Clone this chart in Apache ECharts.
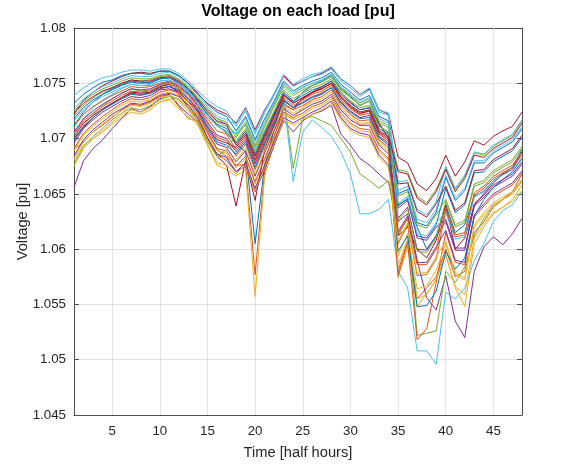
<!DOCTYPE html>
<html>
<head>
<meta charset="utf-8">
<script src="https://cdn.jsdelivr.net/npm/echarts@6/dist/echarts.min.js"></script>
<style>
  html, body { margin: 0; padding: 0; background: #fff; }
  #chart { width: 574px; height: 470px; }
</style>
</head>
<body>
<div id="chart"></div>
<script>
// Half-hour time steps
const time = [1,2,3,4,5,6,7,8,9,10,11,12,13,14,15,16,17,18,19,20,21,22,23,24,25,26,27,28,29,30,31,32,33,34,35,36,37,38,39,40,41,42,43,44,45,46,47,48];
const xTicks = [5,10,15,20,25,30,35,40,45];

// Per-load voltage profiles [pu]
const load01 = [1.0712,1.0724,1.0733,1.0740,1.0745,1.0749,1.0752,1.0751,1.0750,1.0754,1.0755,1.0750,1.0742,1.0733,1.0722,1.0712,1.0706,1.0695,1.0688,1.0605,1.0676,1.0708,1.0740,1.0733,1.0742,1.0748,1.0752,1.0757,1.0745,1.0738,1.0730,1.0734,1.0712,1.0705,1.0640,1.0645,1.0620,1.0600,1.0612,1.0640,1.0615,1.0622,1.0648,1.0652,1.0662,1.0668,1.0674,1.0690];
const load02 = [1.0690,1.0697,1.0706,1.0712,1.0719,1.0726,1.0731,1.0730,1.0733,1.0738,1.0740,1.0729,1.0718,1.0716,1.0705,1.0690,1.0684,1.0676,1.0676,1.0577,1.0670,1.0700,1.0730,1.0726,1.0736,1.0741,1.0746,1.0752,1.0738,1.0728,1.0722,1.0725,1.0705,1.0698,1.0580,1.0608,1.0555,1.0565,1.0575,1.0600,1.0575,1.0580,1.0615,1.0625,1.0638,1.0645,1.0652,1.0668];
const load03 = [1.0680,1.0694,1.0700,1.0706,1.0713,1.0719,1.0724,1.0722,1.0726,1.0733,1.0735,1.0727,1.0720,1.0712,1.0694,1.0676,1.0672,1.0666,1.0672,1.0557,1.0666,1.0695,1.0722,1.0718,1.0728,1.0735,1.0742,1.0749,1.0735,1.0722,1.0712,1.0715,1.0698,1.0690,1.0574,1.0602,1.0548,1.0560,1.0572,1.0595,1.0565,1.0548,1.0605,1.0620,1.0632,1.0638,1.0645,1.0658];
const load04 = [1.0656,1.0680,1.0691,1.0699,1.0709,1.0718,1.0727,1.0724,1.0729,1.0736,1.0740,1.0730,1.0722,1.0715,1.0700,1.0686,1.0680,1.0670,1.0675,1.0652,1.0672,1.0694,1.0716,1.0706,1.0716,1.0722,1.0725,1.0730,1.0704,1.0694,1.0682,1.0676,1.0668,1.0660,1.0625,1.0632,1.0590,1.0556,1.0545,1.0576,1.0535,1.0520,1.0580,1.0602,1.0611,1.0604,1.0614,1.0628];
const load05 = [1.0700,1.0712,1.0722,1.0730,1.0736,1.0741,1.0745,1.0743,1.0744,1.0748,1.0750,1.0746,1.0740,1.0732,1.0722,1.0712,1.0705,1.0696,1.0705,1.0684,1.0703,1.0722,1.0738,1.0673,1.0718,1.0720,1.0716,1.0712,1.0700,1.0688,1.0668,1.0662,1.0655,1.0662,1.0612,1.0628,1.0522,1.0524,1.0526,1.0580,1.0570,1.0584,1.0612,1.0628,1.0640,1.0645,1.0650,1.0662];
const load06 = [1.0705,1.0718,1.0728,1.0735,1.0740,1.0745,1.0749,1.0748,1.0748,1.0752,1.0753,1.0749,1.0743,1.0736,1.0727,1.0718,1.0713,1.0704,1.0712,1.0690,1.0708,1.0724,1.0736,1.0661,1.0706,1.0717,1.0710,1.0702,1.0688,1.0668,1.0632,1.0632,1.0636,1.0645,1.0580,1.0565,1.0508,1.0508,1.0496,1.0561,1.0555,1.0565,1.0590,1.0605,1.0625,1.0635,1.0640,1.0652];
const load07 = [1.0722,1.0735,1.0742,1.0748,1.0752,1.0756,1.0759,1.0760,1.0759,1.0761,1.0761,1.0757,1.0750,1.0740,1.0732,1.0726,1.0722,1.0714,1.0728,1.0708,1.0726,1.0740,1.0757,1.0748,1.0752,1.0756,1.0759,1.0764,1.0754,1.0748,1.0740,1.0745,1.0726,1.0722,1.0683,1.0678,1.0659,1.0653,1.0664,1.0685,1.0666,1.0679,1.0698,1.0694,1.0702,1.0707,1.0711,1.0724];
const load08 = [1.0732,1.0740,1.0746,1.0751,1.0753,1.0757,1.0759,1.0759,1.0758,1.0761,1.0761,1.0757,1.0750,1.0741,1.0731,1.0724,1.0720,1.0707,1.0720,1.0699,1.0718,1.0734,1.0752,1.0743,1.0748,1.0752,1.0755,1.0760,1.0749,1.0742,1.0735,1.0739,1.0720,1.0716,1.0650,1.0654,1.0624,1.0621,1.0633,1.0665,1.0644,1.0653,1.0678,1.0678,1.0687,1.0692,1.0697,1.0709];
const load09 = [1.0704,1.0716,1.0723,1.0729,1.0734,1.0739,1.0743,1.0742,1.0743,1.0747,1.0749,1.0745,1.0738,1.0727,1.0713,1.0701,1.0698,1.0684,1.0695,1.0672,1.0693,1.0712,1.0732,1.0726,1.0730,1.0735,1.0738,1.0744,1.0730,1.0722,1.0716,1.0717,1.0699,1.0692,1.0576,1.0606,1.0518,1.0528,1.0570,1.0615,1.0588,1.0586,1.0629,1.0639,1.0648,1.0653,1.0658,1.0669];
const load10 = [1.0689,1.0703,1.0711,1.0718,1.0724,1.0730,1.0734,1.0733,1.0735,1.0740,1.0742,1.0739,1.0731,1.0720,1.0704,1.0689,1.0687,1.0673,1.0682,1.0659,1.0680,1.0701,1.0722,1.0717,1.0721,1.0727,1.0730,1.0736,1.0721,1.0712,1.0707,1.0706,1.0688,1.0680,1.0594,1.0614,1.0564,1.0567,1.0581,1.0605,1.0577,1.0572,1.0620,1.0631,1.0640,1.0645,1.0650,1.0661];
const load11 = [1.0696,1.0709,1.0717,1.0724,1.0729,1.0734,1.0738,1.0737,1.0739,1.0744,1.0745,1.0742,1.0734,1.0724,1.0708,1.0695,1.0692,1.0679,1.0689,1.0666,1.0687,1.0707,1.0727,1.0721,1.0726,1.0731,1.0734,1.0740,1.0726,1.0717,1.0712,1.0712,1.0694,1.0686,1.0628,1.0638,1.0600,1.0599,1.0612,1.0625,1.0599,1.0599,1.0639,1.0647,1.0656,1.0661,1.0666,1.0677];
const load12 = [1.0725,1.0734,1.0740,1.0745,1.0748,1.0752,1.0755,1.0754,1.0754,1.0757,1.0758,1.0754,1.0747,1.0737,1.0727,1.0718,1.0715,1.0701,1.0713,1.0692,1.0711,1.0729,1.0747,1.0739,1.0744,1.0748,1.0751,1.0756,1.0744,1.0737,1.0730,1.0734,1.0714,1.0710,1.0672,1.0670,1.0648,1.0642,1.0654,1.0674,1.0654,1.0666,1.0687,1.0685,1.0693,1.0698,1.0703,1.0716];
const load13 = [1.0739,1.0746,1.0751,1.0755,1.0757,1.0760,1.0762,1.0762,1.0761,1.0763,1.0763,1.0759,1.0752,1.0743,1.0735,1.0729,1.0725,1.0711,1.0725,1.0704,1.0723,1.0739,1.0756,1.0747,1.0752,1.0756,1.0758,1.0763,1.0752,1.0746,1.0738,1.0744,1.0724,1.0721,1.0661,1.0662,1.0636,1.0631,1.0643,1.0675,1.0655,1.0667,1.0688,1.0686,1.0694,1.0699,1.0704,1.0717];
const load14 = [1.0700,1.0710,1.0719,1.0726,1.0732,1.0737,1.0742,1.0741,1.0742,1.0747,1.0749,1.0740,1.0728,1.0718,1.0700,1.0684,1.0676,1.0639,1.0680,1.0644,1.0690,1.0712,1.0735,1.0728,1.0736,1.0742,1.0747,1.0752,1.0742,1.0733,1.0726,1.0728,1.0714,1.0700,1.0612,1.0620,1.0600,1.0592,1.0608,1.0640,1.0600,1.0610,1.0640,1.0650,1.0660,1.0668,1.0672,1.0688];
const load15 = [1.0718,1.0728,1.0735,1.0740,1.0744,1.0748,1.0751,1.0750,1.0751,1.0754,1.0755,1.0751,1.0744,1.0734,1.0722,1.0713,1.0709,1.0696,1.0707,1.0686,1.0705,1.0723,1.0742,1.0734,1.0739,1.0744,1.0747,1.0752,1.0740,1.0732,1.0726,1.0728,1.0709,1.0704,1.0639,1.0646,1.0612,1.0610,1.0622,1.0655,1.0633,1.0640,1.0669,1.0670,1.0679,1.0684,1.0689,1.0701];
const load16 = [1.0711,1.0722,1.0729,1.0734,1.0739,1.0743,1.0747,1.0746,1.0747,1.0750,1.0752,1.0748,1.0741,1.0730,1.0718,1.0707,1.0704,1.0690,1.0701,1.0679,1.0699,1.0718,1.0737,1.0730,1.0735,1.0740,1.0743,1.0748,1.0735,1.0727,1.0721,1.0723,1.0704,1.0698,1.0605,1.0622,1.0576,1.0577,1.0591,1.0635,1.0611,1.0613,1.0649,1.0655,1.0664,1.0669,1.0674,1.0685];
const load17 = [1.0682,1.0697,1.0706,1.0713,1.0720,1.0725,1.0730,1.0729,1.0732,1.0737,1.0739,1.0736,1.0728,1.0717,1.0699,1.0684,1.0681,1.0681,1.0691,1.0668,1.0689,1.0709,1.0729,1.0723,1.0728,1.0733,1.0736,1.0742,1.0728,1.0719,1.0714,1.0714,1.0696,1.0688,1.0586,1.0609,1.0555,1.0559,1.0573,1.0595,1.0566,1.0559,1.0610,1.0623,1.0633,1.0638,1.0643,1.0653];
const load18 = [1.0706,1.0718,1.0725,1.0731,1.0736,1.0741,1.0745,1.0744,1.0745,1.0749,1.0751,1.0747,1.0740,1.0729,1.0715,1.0703,1.0700,1.0688,1.0699,1.0677,1.0697,1.0716,1.0735,1.0728,1.0733,1.0738,1.0741,1.0746,1.0733,1.0725,1.0719,1.0721,1.0702,1.0696,1.0616,1.0630,1.0588,1.0588,1.0602,1.0617,1.0590,1.0588,1.0631,1.0641,1.0650,1.0655,1.0660,1.0671];
const load19 = [1.0720,1.0730,1.0737,1.0742,1.0746,1.0750,1.0753,1.0752,1.0753,1.0756,1.0757,1.0753,1.0746,1.0736,1.0724,1.0715,1.0711,1.0698,1.0709,1.0688,1.0707,1.0725,1.0744,1.0736,1.0741,1.0746,1.0749,1.0754,1.0742,1.0734,1.0728,1.0730,1.0711,1.0706,1.0648,1.0652,1.0622,1.0619,1.0631,1.0645,1.0622,1.0626,1.0659,1.0662,1.0671,1.0676,1.0681,1.0693];
const load20 = [1.0727,1.0736,1.0742,1.0747,1.0750,1.0754,1.0757,1.0756,1.0756,1.0759,1.0760,1.0756,1.0749,1.0739,1.0729,1.0720,1.0717,1.0713,1.0727,1.0706,1.0725,1.0741,1.0758,1.0749,1.0754,1.0758,1.0760,1.0765,1.0754,1.0748,1.0740,1.0746,1.0726,1.0723,1.0653,1.0657,1.0627,1.0624,1.0636,1.0667,1.0646,1.0655,1.0680,1.0680,1.0689,1.0694,1.0699,1.0711];
const load21 = [1.0702,1.0714,1.0721,1.0727,1.0732,1.0737,1.0741,1.0740,1.0741,1.0745,1.0747,1.0743,1.0736,1.0725,1.0711,1.0699,1.0696,1.0692,1.0703,1.0681,1.0701,1.0720,1.0739,1.0732,1.0737,1.0742,1.0745,1.0750,1.0737,1.0729,1.0723,1.0725,1.0706,1.0700,1.0659,1.0660,1.0634,1.0629,1.0641,1.0657,1.0635,1.0642,1.0671,1.0672,1.0681,1.0686,1.0691,1.0703];
const load22 = [1.0698,1.0711,1.0719,1.0726,1.0731,1.0736,1.0740,1.0739,1.0741,1.0746,1.0747,1.0744,1.0736,1.0726,1.0710,1.0697,1.0694,1.0686,1.0697,1.0674,1.0695,1.0714,1.0734,1.0728,1.0732,1.0737,1.0740,1.0746,1.0732,1.0724,1.0718,1.0719,1.0701,1.0694,1.0598,1.0612,1.0548,1.0549,1.0562,1.0598,1.0582,1.0592,1.0630,1.0645,1.0656,1.0663,1.0670,1.0682];
const load23 = [1.0691,1.0705,1.0713,1.0720,1.0726,1.0732,1.0736,1.0735,1.0737,1.0742,1.0744,1.0741,1.0733,1.0722,1.0706,1.0691,1.0689,1.0675,1.0684,1.0661,1.0682,1.0703,1.0724,1.0719,1.0723,1.0729,1.0732,1.0738,1.0723,1.0714,1.0709,1.0708,1.0690,1.0682,1.0614,1.0628,1.0586,1.0586,1.0600,1.0637,1.0613,1.0615,1.0651,1.0657,1.0666,1.0671,1.0676,1.0687];
const load24 = [1.0675,1.0691,1.0700,1.0707,1.0715,1.0721,1.0726,1.0724,1.0728,1.0733,1.0736,1.0733,1.0725,1.0713,1.0695,1.0678,1.0676,1.0668,1.0676,1.0653,1.0674,1.0696,1.0717,1.0712,1.0717,1.0722,1.0726,1.0732,1.0717,1.0707,1.0703,1.0701,1.0683,1.0674,1.0607,1.0624,1.0578,1.0579,1.0593,1.0607,1.0579,1.0574,1.0622,1.0633,1.0642,1.0647,1.0652,1.0663];
const load25 = [1.0684,1.0699,1.0708,1.0715,1.0722,1.0727,1.0732,1.0731,1.0734,1.0739,1.0741,1.0738,1.0730,1.0719,1.0701,1.0686,1.0683,1.0670,1.0678,1.0655,1.0676,1.0698,1.0719,1.0714,1.0719,1.0724,1.0728,1.0734,1.0719,1.0709,1.0705,1.0703,1.0685,1.0676,1.0637,1.0644,1.0610,1.0608,1.0620,1.0627,1.0601,1.0601,1.0641,1.0649,1.0658,1.0663,1.0668,1.0679];
const load26 = [1.0677,1.0693,1.0702,1.0709,1.0717,1.0723,1.0728,1.0726,1.0730,1.0735,1.0738,1.0735,1.0727,1.0715,1.0697,1.0684,1.0690,1.0703,1.0715,1.0694,1.0713,1.0731,1.0749,1.0741,1.0746,1.0750,1.0753,1.0758,1.0746,1.0739,1.0732,1.0736,1.0716,1.0712,1.0626,1.0636,1.0598,1.0597,1.0610,1.0643,1.0620,1.0624,1.0657,1.0660,1.0669,1.0674,1.0679,1.0691];
const load27 = [1.0716,1.0726,1.0733,1.0738,1.0742,1.0746,1.0749,1.0748,1.0749,1.0752,1.0753,1.0749,1.0742,1.0732,1.0720,1.0711,1.0707,1.0705,1.0718,1.0697,1.0716,1.0732,1.0750,1.0741,1.0746,1.0750,1.0753,1.0758,1.0747,1.0740,1.0733,1.0737,1.0718,1.0714,1.0641,1.0648,1.0614,1.0612,1.0624,1.0633,1.0609,1.0611,1.0647,1.0653,1.0662,1.0667,1.0672,1.0683];
const load28 = [1.0723,1.0732,1.0738,1.0743,1.0746,1.0750,1.0753,1.0752,1.0752,1.0755,1.0756,1.0752,1.0745,1.0735,1.0725,1.0716,1.0713,1.0694,1.0705,1.0684,1.0703,1.0721,1.0740,1.0732,1.0737,1.0742,1.0745,1.0750,1.0738,1.0730,1.0724,1.0726,1.0707,1.0702,1.0670,1.0668,1.0646,1.0640,1.0652,1.0672,1.0652,1.0664,1.0685,1.0683,1.0691,1.0696,1.0701,1.0714];

const loads = [load01,load02,load03,load04,load05,load06,load07,load08,load09,load10,
               load11,load12,load13,load14,load15,load16,load17,load18,load19,load20,
               load21,load22,load23,load24,load25,load26,load27,load28];

// Default seven-colour line order, cycled over the loads
const palette = ['#0072BD','#D95319','#EDB120','#7E2F8E','#77AC30','#4DBEEE','#A2142F'];

const FONT = '"Liberation Sans", Arial, Helvetica, sans-serif';
const TEXT = '#262626';
const AXIS = '#4d4d4d';
const GRID = '#e2e2e2';

const chart = echarts.init(document.getElementById('chart'), null, { renderer: 'canvas' });

const lineSeries = loads.map((vals, i) => ({
  type: 'line',
  name: 'Load ' + (i + 1),
  data: time.map((t, k) => [t, vals[k]]),
  showSymbol: false,
  symbol: 'none',
  silent: true,
  z: 3,
  lineStyle: { width: 1, color: palette[i % palette.length] },
  itemStyle: { color: palette[i % palette.length] }
}));

// Vertical grid lines at the labelled time steps
const gridSeries = {
  type: 'line',
  data: [],
  silent: true,
  markLine: {
    z: 1,
    silent: true,
    symbol: 'none',
    label: { show: false },
    lineStyle: { color: GRID, width: 1, type: 'solid' },
    data: xTicks.map(v => ({ xAxis: v }))
  }
};

const tickCommon = { show: true, inside: true, length: 5, lineStyle: { color: AXIS, width: 1 } };
const lineCommon = { show: true, onZero: false, lineStyle: { color: AXIS, width: 1 } };

chart.setOption({
  animation: false,
  backgroundColor: '#fff',
  title: {
    text: 'Voltage on each load [pu]',
    left: 298,
    top: 4,
    padding: 0,
    textAlign: 'center',
    textStyle: { fontFamily: FONT, fontSize: 16, fontWeight: 'bold', color: '#000' }
  },
  grid: { left: 74, right: 52, top: 28, bottom: 55, containLabel: false },
  xAxis: [
    {
      type: 'value', min: 1, max: 48, position: 'bottom',
      axisLine: lineCommon,
      axisTick: Object.assign({}, tickCommon, { customValues: xTicks }),
      axisLabel: { customValues: xTicks, color: TEXT, fontFamily: FONT, fontSize: 13.3, margin: 10 },
      splitLine: { show: false },
      name: 'Time [half hours]', nameLocation: 'middle', nameGap: 30, nameMoveOverlap: false,
      nameTextStyle: { fontFamily: FONT, fontSize: 14.7, color: TEXT }
    },
    {
      type: 'value', min: 1, max: 48, position: 'top',
      axisLine: lineCommon,
      axisTick: Object.assign({}, tickCommon, { customValues: xTicks }),
      axisLabel: { show: false },
      splitLine: { show: false }
    }
  ],
  yAxis: [
    {
      type: 'value', min: 1.045, max: 1.08, interval: 0.005, position: 'left',
      axisLine: lineCommon,
      axisTick: tickCommon,
      axisLabel: { color: TEXT, fontFamily: FONT, fontSize: 13.3, margin: 8 },
      splitLine: { show: true, lineStyle: { color: GRID, width: 1 } },
      name: 'Voltage [pu]', nameLocation: 'middle', nameGap: 44, nameRotate: 90, nameMoveOverlap: false,
      nameTextStyle: { fontFamily: FONT, fontSize: 14.7, color: TEXT }
    },
    {
      type: 'value', min: 1.045, max: 1.08, interval: 0.005, position: 'right',
      axisLine: lineCommon,
      axisTick: tickCommon,
      axisLabel: { show: false },
      splitLine: { show: false }
    }
  ],
  series: [gridSeries].concat(lineSeries)
});
</script>
</body>
</html>
